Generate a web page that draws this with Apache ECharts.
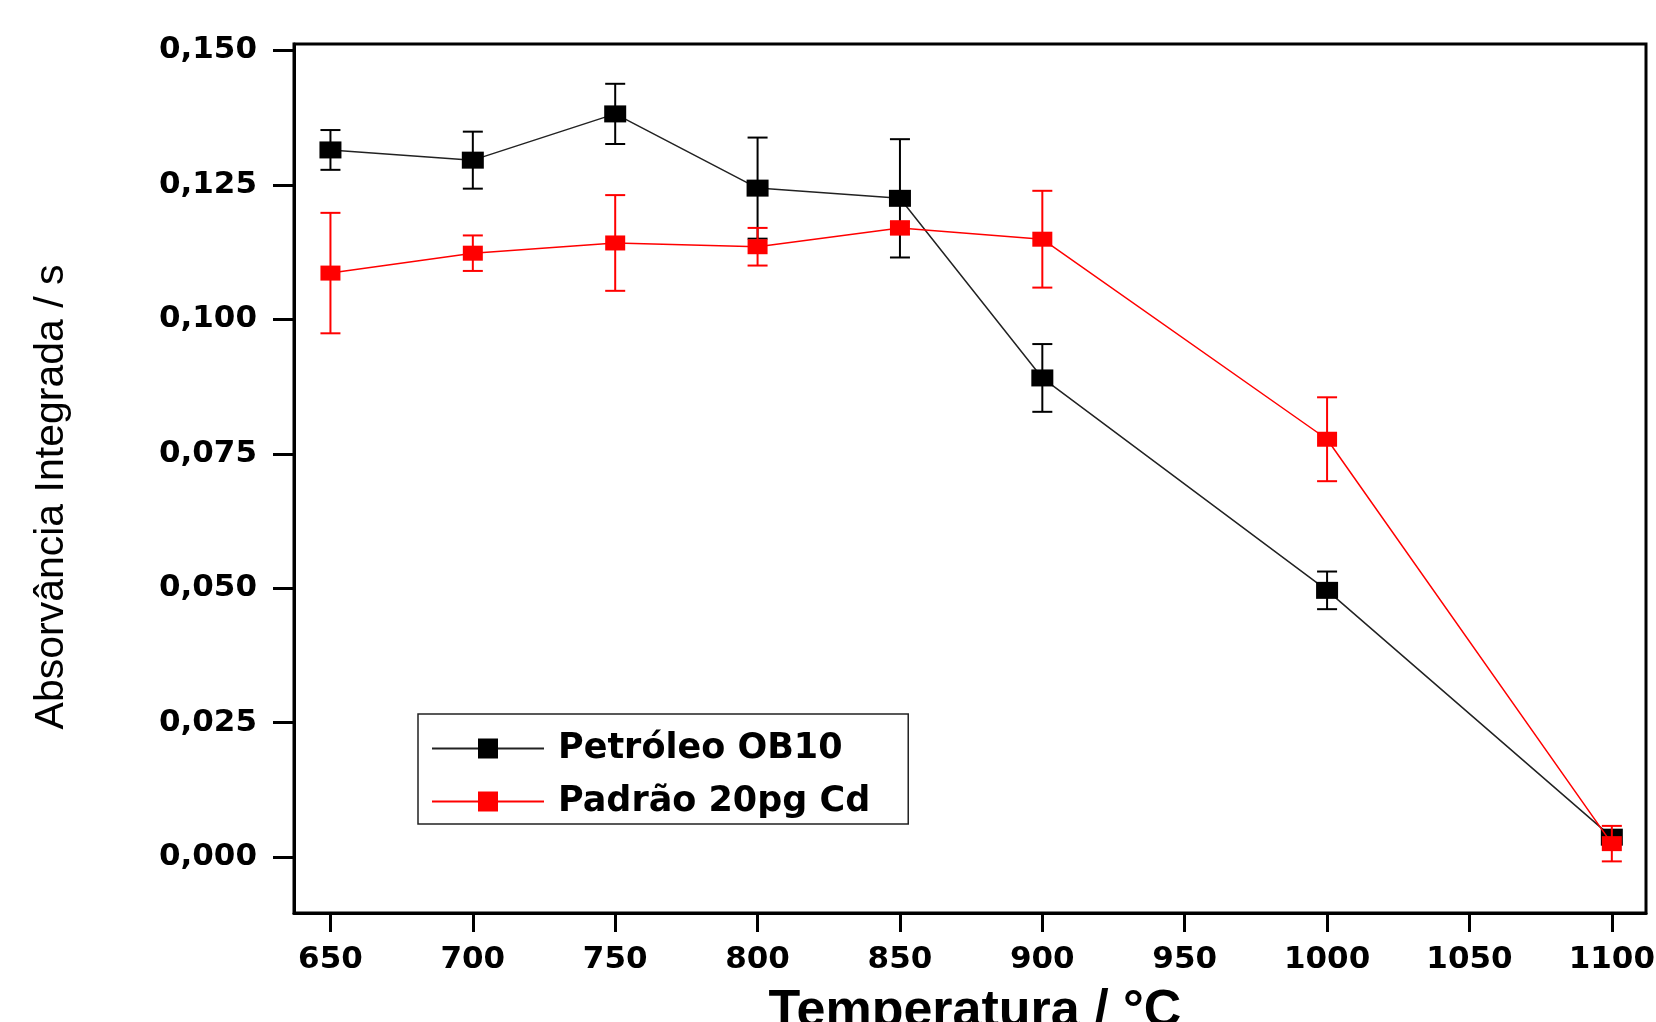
<!DOCTYPE html>
<html>
<head>
<meta charset="utf-8">
<title>Absorvância x Temperatura</title>
<script src="https://cdn.jsdelivr.net/npm/echarts@6.0.0/dist/echarts.min.js"></script>
<style>
    html, body { margin: 0; padding: 0; background: #fff; }
    #main { width: 1656px; height: 1022px; }
</style>
</head>
<body>
<div id="main"></div>
<script>
// temperatura de pirólise (°C)
var temps = [650, 700, 750, 800, 850, 900, 1000, 1100];

// Petróleo OB10
var oilValues = [0.1315, 0.1296, 0.1382, 0.1244, 0.1225, 0.0891, 0.0496, 0.0037];
var oilErrors = [0.0037, 0.0053, 0.0056, 0.0094, 0.0110, 0.0063, 0.0035, 0.0010];

// Padrão 20pg Cd
var stdValues = [0.1086, 0.1123, 0.1142, 0.1135, 0.1170, 0.1149, 0.0777, 0.0025];
var stdErrors = [0.0112, 0.0033, 0.0089, 0.0035, 0.0012, 0.0090, 0.0078, 0.0033];

var xTicks = [650, 700, 750, 800, 850, 900, 950, 1000, 1050, 1100];
var yTicks = [0, 0.025, 0.05, 0.075, 0.1, 0.125, 0.15];

var seriesNames = ['Petróleo OB10', 'Padrão 20pg Cd'];

function pairs(values) {
    return temps.map(function (t, i) { return [t, values[i]]; });
}

function errorRows(values, errors) {
    return temps.map(function (t, i) {
        return [t, values[i] - errors[i], values[i] + errors[i]];
    });
}

function renderErrorBar(params, api) {
    var x = api.value(0);
    var lo = api.coord([x, api.value(1)]);
    var hi = api.coord([x, api.value(2)]);
    var hw = 10;
    var style = { stroke: api.visual('color'), lineWidth: 2 };
    return {
        type: 'group',
        children: [
            { type: 'line', shape: { x1: hi[0], y1: hi[1], x2: lo[0], y2: lo[1] }, style: style },
            { type: 'line', shape: { x1: hi[0] - hw, y1: hi[1], x2: hi[0] + hw, y2: hi[1] }, style: style },
            { type: 'line', shape: { x1: lo[0] - hw, y1: lo[1], x2: lo[0] + hw, y2: lo[1] }, style: style }
        ]
    };
}

var chart = echarts.init(document.getElementById('main'), null, { renderer: 'canvas' });

var tickFont = {
    color: '#000',
    fontFamily: 'DejaVu Sans',
    fontWeight: 'bold',
    fontSize: 31
};

var option = {
    animation: false,
    backgroundColor: '#fff',
    grid: {
        left: 294,
        right: 10,
        top: 44,
        bottom: 109,
        outerBoundsMode: 'none',
        containLabel: false,
        show: true,
        borderColor: '#000',
        borderWidth: 3
    },
    legend: {
        data: seriesNames,
        orient: 'vertical',
        left: 418,
        top: 714,
        padding: [17, 38, 5, 13],
        itemWidth: 112,
        itemHeight: 25,
        itemGap: 18,
        borderColor: '#222',
        borderWidth: 1.5,
        backgroundColor: '#fff',
        textStyle: {
            color: '#000',
            fontFamily: 'DejaVu Sans',
            fontWeight: 'bold',
            fontSize: 35,
            padding: [0, 52, 0, 9]
        }
    },
    xAxis: {
        type: 'value',
        min: 637.2,
        max: 1112,
        name: 'Temperatura / °C',
        nameLocation: 'middle',
        nameGap: 73,
        nameTextStyle: {
            color: '#000',
            fontFamily: 'Liberation Sans',
            fontWeight: 'bold',
            fontSize: 52,
            padding: [0, 0, 0, 10]
        },
        axisLine: { show: true, onZero: false, lineStyle: { color: '#000', width: 3 } },
        axisTick: {
            show: true,
            inside: false,
            length: 19,
            customValues: xTicks,
            lineStyle: { color: '#000', width: 3 }
        },
        axisLabel: {
            customValues: xTicks,
            margin: 31,
            formatter: function (v) { return String(v); },
            ...tickFont
        },
        splitLine: { show: false }
    },
    yAxis: {
        type: 'value',
        min: -0.0104,
        max: 0.1512,
        name: 'Absorvância Integrada / s',
        nameLocation: 'middle',
        nameRotate: 90,
        nameGap: 222,
        nameTextStyle: {
            color: '#000',
            fontFamily: 'Liberation Sans',
            fontSize: 41,
            padding: [0, 37, 0, 0]
        },
        axisLine: { show: true, onZero: false, lineStyle: { color: '#000', width: 3 } },
        axisTick: {
            show: true,
            inside: false,
            length: 21,
            customValues: yTicks,
            lineStyle: { color: '#000', width: 3 }
        },
        axisLabel: {
            customValues: yTicks,
            margin: 37,
            formatter: function (v) { return v.toFixed(3).replace('.', ','); },
            ...tickFont
        },
        splitLine: { show: false }
    },
    series: [
        {
            name: 'errOil',
            type: 'custom',
            renderItem: renderErrorBar,
            itemStyle: { color: '#000' },
            encode: { x: 0, y: [1, 2] },
            data: errorRows(oilValues, oilErrors),
            z: 1
        },
        {
            name: seriesNames[0],
            type: 'line',
            data: pairs(oilValues),
            symbol: 'rect',
            symbolSize: [22, 17],
            itemStyle: { color: '#000' },
            lineStyle: { color: '#222', width: 1.5 },
            z: 2
        },
        {
            name: 'errStd',
            type: 'custom',
            renderItem: renderErrorBar,
            itemStyle: { color: '#ff0000' },
            encode: { x: 0, y: [1, 2] },
            data: errorRows(stdValues, stdErrors),
            z: 3
        },
        {
            name: seriesNames[1],
            type: 'line',
            data: pairs(stdValues),
            symbol: 'rect',
            symbolSize: [20, 15],
            itemStyle: { color: '#ff0000' },
            lineStyle: { color: '#ff0000', width: 1.5 },
            z: 4
        }
    ]
};

chart.setOption(option);
</script>
</body>
</html>
